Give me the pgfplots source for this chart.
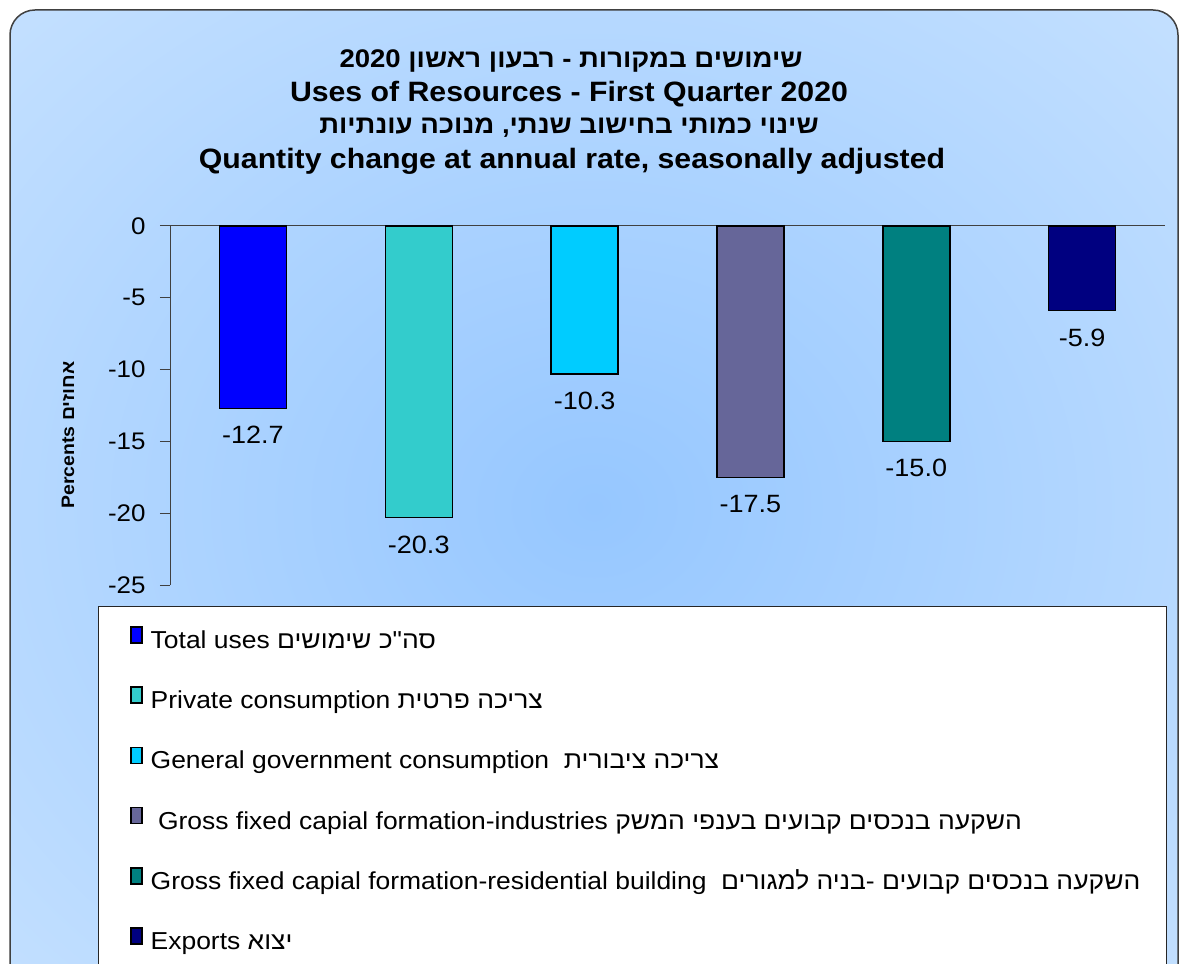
\documentclass[border=0pt]{standalone}
\usepackage{fontspec}
\setmainfont{Liberation Sans}[FakeStretch=1.08]
\newfontfamily\heb[Script=Hebrew,FakeStretch=1.08]{Liberation Sans}
\usepackage{pgfplots}
\pgfplotsset{compat=1.18}
\TeXXeTstate=1

\definecolor{cTotal}{HTML}{0000FF}
\definecolor{cPriv}{HTML}{33CCCC}
\definecolor{cGov}{HTML}{00CCFF}
\definecolor{cInd}{HTML}{666699}
\definecolor{cRes}{HTML}{008080}
\definecolor{cExp}{HTML}{000080}
\definecolor{bgin}{HTML}{96C7FF}
\definecolor{bgout}{HTML}{D6EAFF}
\definecolor{frame}{HTML}{404040}
\pgfdeclareradialshading{bgshade}{\pgfpoint{0bp}{0bp}}{color(0bp)=(bgin); color(50bp)=(bgout)}

\begin{document}
\begin{tikzpicture}
\useasboundingbox (0,0) rectangle (1182bp,964bp);
\begin{scope}
  \clip (0,0) rectangle (1182bp,964bp);
  \fill[white] (0,0) rectangle (1182bp,964bp);
  \shade[shading=bgshade, rounded corners=25bp] (10bp,-40bp) rectangle (1178bp,954bp);
  \draw[frame, line width=1.5bp, rounded corners=25bp] (10bp,-40bp) rectangle (1178bp,954bp);
  \draw[fill=white, draw=black!85, line width=1bp] (98bp,-10bp) rectangle (1166bp,357bp);
\end{scope}

% titles
\begin{scope}[every node/.style={anchor=base}]
  \node[font=\fontsize{25.5bp}{30bp}\selectfont\bfseries] at (571bp,896bp) {\heb\beginR שימושים במקורות - רבעון ראשון \beginL2020\endL\endR};
  \node[font=\fontsize{28bp}{32bp}\selectfont\bfseries] at (569bp,862bp) {Uses of Resources - First Quarter 2020};
  \node[font=\fontsize{25.5bp}{30bp}\selectfont\bfseries] at (569bp,830bp) {\heb\beginR שינוי כמותי בחישוב שנתי, מנוכה עונתיות\endR};
  \node[font=\fontsize{28bp}{32bp}\selectfont\bfseries] at (572bp,795bp) {Quantity change at annual rate, seasonally adjusted};
\end{scope}

\begin{axis}[
    at={(170bp,379bp)}, anchor=south west,
    width=995bp, height=359bp, scale only axis,
    xmin=0.5, xmax=6.5, ymin=-25, ymax=0,
    ybar,
    axis x line*=top, axis y line*=left,
    xtick=\empty,
    ytick={-25,-20,-15,-10,-5,0},
    tick align=outside, major tick length=10bp,
    axis line style={draw=frame, line width=1bp},
    tick style={draw=frame, line width=1bp},
    /pgf/number format/assume math mode=true,
    yticklabel style={font=\fontsize{24bp}{28bp}\selectfont, xshift=-11bp},
    ylabel={Percents {\heb\beginR אחוזים\endR}},
    ylabel style={at={(axis description cs:-0.1025,0.418)}, anchor=center,
      font=\fontsize{18bp}{21bp}\selectfont\bfseries},
    nodes near coords={\pgfmathprintnumber[fixed,fixed zerofill,precision=1]{\pgfplotspointmeta}},
    every node near coord/.append style={font=\fontsize{25bp}{30bp}\selectfont, text=black, yshift=-14bp},
    legend style={at={(axis description cs:-0.0402,-0.114)}, anchor=north west,
      draw=none, fill=none, inner sep=0pt, row sep=32bp,
      font=\fontsize{24.5bp}{28bp}\selectfont,
      nodes={inner sep=0pt, text height=17bp, text depth=6bp},
      /tikz/every odd column/.style={column sep=8bp}},
    legend cell align=left,
    legend image code/.code={\draw[#1, draw=black, line width=1.5bp] (0bp,0bp) rectangle (11bp,16bp);},
  ]
  \addplot[fill=cTotal, draw=black, line width=1.5bp, bar width=67bp, bar shift=0pt] coordinates {(1,-12.7)};
  \addlegendentry{Total uses {\heb\beginR סה"כ שימושים\endR}}
  \addplot[fill=cPriv, draw=black, line width=1.5bp, bar width=67bp, bar shift=0pt] coordinates {(2,-20.3)};
  \addlegendentry{Private consumption {\heb\beginR צריכה פרטית\endR}}
  \addplot[fill=cGov, draw=black, line width=1.5bp, bar width=67bp, bar shift=0pt] coordinates {(3,-10.3)};
  \addlegendentry{General government consumption\ \ {\heb\beginR צריכה ציבורית\endR}}
  \addplot[fill=cInd, draw=black, line width=1.5bp, bar width=67bp, bar shift=0pt] coordinates {(4,-17.5)};
  \addlegendentry{\ Gross fixed capial formation-industries {\heb\beginR השקעה בנכסים קבועים בענפי המשק\endR}}
  \addplot[fill=cRes, draw=black, line width=1.5bp, bar width=67bp, bar shift=0pt] coordinates {(5,-15.0)};
  \addlegendentry{Gross fixed capial formation-residential building\ \ {\heb\beginR השקעה בנכסים קבועים -בניה למגורים\endR}}
  \addplot[fill=cExp, draw=black, line width=1.5bp, bar width=67bp, bar shift=0pt] coordinates {(6,-5.9)};
  \addlegendentry{Exports {\heb\beginR יצוא\endR}}
\end{axis}
\end{tikzpicture}
\end{document}
